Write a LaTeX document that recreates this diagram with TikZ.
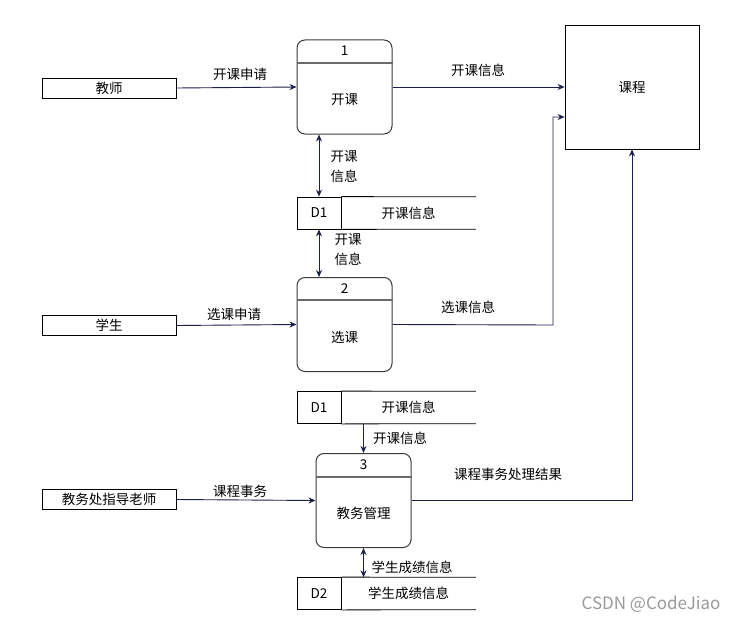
\documentclass[tikz,border=0pt]{standalone}
\usepackage{fontspec}
\setmainfont{Noto Sans CJK SC}
\usetikzlibrary{arrows.meta,calc}
\definecolor{navy}{HTML}{1B1F4B}
\definecolor{procgray}{HTML}{3A3A3A}
\definecolor{divgray}{HTML}{6A6A6A}
\begin{document}
\begin{tikzpicture}[x=1pt,y=-1pt,
  every node/.style={font=\fontsize{13.5pt}{16pt}\selectfont, inner sep=0pt},
  ext/.style={draw=black, line width=0.8pt, minimum width=134pt, minimum height=20pt},
  proc/.style={draw=procgray, rounded corners=8pt, line width=1pt, minimum width=95pt, minimum height=94pt},
  idcell/.style={draw=black, line width=0.8pt, minimum width=44pt, minimum height=32pt},
  txtcell/.style={minimum width=134pt, minimum height=32pt},
  storeline/.style={black, line width=0.8pt},
  flow/.style={navy, line width=0.9pt, -{Stealth[length=7pt,width=6pt]}},
  bflow/.style={navy, line width=0.9pt, {Stealth[length=7pt,width=6pt]}-{Stealth[length=7pt,width=6pt]}},
  lbl/.style={text=black}]
\useasboundingbox (0,0) rectangle (741,626);
% external entities
\node[ext] (js) at (109,88) {教师};
\node[ext] (xs) at (109,325.5) {学生};
\node[ext] (jw) at (109,499.5) {教务处指导老师};
\node[draw=black, line width=0.8pt, minimum width=134pt, minimum height=124pt] (kc) at (632,87) {课程};
% processes
\node[proc] (p1) at (344.5,87) {};
\draw[divgray, line width=1.2pt] (p1.west |- 0,63) -- (p1.east |- 0,63);
\node (p1n) at (344.5,51) {1};
\node (p1t) at (344.5,100) {开课};
\node[proc] (p2) at (344.5,324.5) {};
\draw[divgray, line width=1.2pt] (p2.west |- 0,300) -- (p2.east |- 0,300);
\node (p2n) at (344.5,289) {2};
\node (p2t) at (344.5,337) {选课};
\node[proc] (p3) at (363.5,500.5) {};
\draw[divgray, line width=1.2pt] (p3.west |- 0,477) -- (p3.east |- 0,477);
\node (p3n) at (363.5,465) {3};
\node (p3t) at (363.5,513) {教务管理};
% data stores
\node[idcell] (d1a) at (319,213) {D1};
\node[txtcell, anchor=west] (d1at) at (d1a.east) {开课信息};
\draw[storeline] (d1a.north east) -- (d1at.north east) (d1a.south east) -- (d1at.south east);
\node[idcell] (d1b) at (319,407.5) {D1};
\node[txtcell, anchor=west] (d1bt) at (d1b.east) {开课信息};
\draw[storeline] (d1b.north east) -- (d1bt.north east) (d1b.south east) -- (d1bt.south east);
\node[idcell] (d2) at (319,593.5) {D2};
\node[txtcell, anchor=west] (d2t) at (d2.east) {学生成绩信息};
\draw[storeline] (d2.north east) -- (d2t.north east) (d2.south east) -- (d2t.south east);
% connectors
\draw[flow] (js.east) -- (p1.west);
\node[lbl] (l1) at (240,74) {开课申请};
\draw[flow] (p1.east) -- (kc.west);
\node[lbl] (l2) at (478,70) {开课信息};
\draw[bflow] (p1.south -| d1a.north) -- (d1a.north);
\node[lbl, align=left] (l3) at (344,167) {开课\\[4pt]信息};
\draw[bflow] (d1a.south) -- (p2.north -| d1a.south);
\node[lbl, align=left] (l4) at (348,250) {开课\\[4pt]信息};
\draw[flow] (xs.east) -- (p2.west);
\node[lbl] (l5) at (234,314) {选课申请};
\coordinate (kcin) at ($(kc.west)+(0,30)$);
\draw[flow] (p2.east) -- (553,325) |- (kcin);
\node[lbl] (l6) at (468,307) {选课信息};
\draw[flow] (d1bt.south -| p3.north) -- (p3.north);
\node[lbl] (l7) at (400,438) {开课信息};
\draw[flow] (jw.east) -- (p3.west);
\node[lbl] (l8) at (240,491) {课程事务};
\draw[flow] (p3.east) -| (kc.south);
\node[lbl] (l9) at (508,474) {课程事务处理结果};
\draw[bflow, line width=1.5pt] (p3.south) -- (d2t.north -| p3.south);
\node[lbl] (l10) at (412,567) {学生成绩信息};
% watermark
\node[text=black!40, font=\fontsize{17pt}{20pt}\selectfont] (wm) at (651,604) {CSDN @CodeJiao};
\end{tikzpicture}
\end{document}
